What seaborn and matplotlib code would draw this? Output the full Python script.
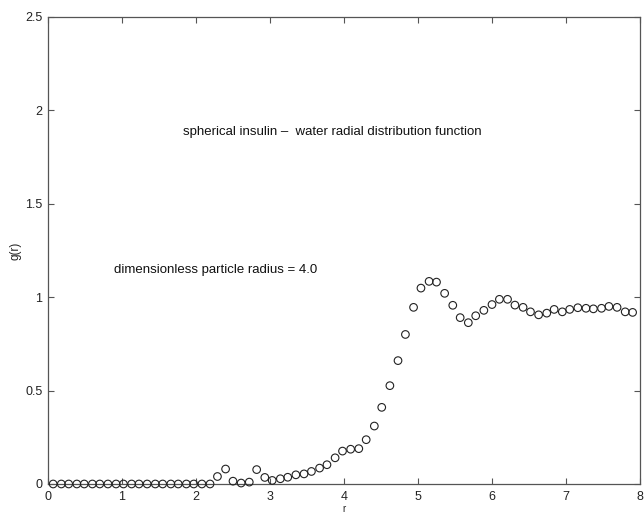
import matplotlib
matplotlib.use("Agg")
import matplotlib.pyplot as plt
import seaborn as sns
import pandas as pd

# radial distance (dimensionless) and radial distribution function values
r = [0.07, 0.18, 0.28, 0.39, 0.49, 0.60, 0.70, 0.81, 0.92, 1.02,
     1.13, 1.23, 1.34, 1.45, 1.55, 1.66, 1.76, 1.87, 1.97, 2.08,
     2.19, 2.29, 2.40, 2.50, 2.61, 2.72, 2.82, 2.93, 3.03, 3.14,
     3.24, 3.35, 3.46, 3.56, 3.67, 3.77, 3.88, 3.98, 4.09, 4.20,
     4.30, 4.41, 4.51, 4.62, 4.73, 4.83, 4.94, 5.04, 5.15, 5.25,
     5.36, 5.47, 5.57, 5.68, 5.78, 5.89, 6.00, 6.10, 6.21, 6.31,
     6.42, 6.52, 6.63, 6.74, 6.84, 6.95, 7.05, 7.16, 7.27, 7.37,
     7.48, 7.58, 7.69, 7.80, 7.90]
g = [0.0, 0.0, 0.0, 0.0, 0.0, 0.0, 0.0, 0.0, 0.0, 0.0,
     0.0, 0.0, 0.0, 0.0, 0.0, 0.0, 0.0, 0.0, 0.0, 0.0,
     0.0, 0.04, 0.08, 0.015, 0.005, 0.01, 0.077, 0.035, 0.019, 0.028,
     0.036, 0.049, 0.054, 0.067, 0.085, 0.103, 0.14, 0.176, 0.186, 0.189,
     0.237, 0.31, 0.41, 0.526, 0.66, 0.80, 0.945, 1.048, 1.084, 1.08,
     1.02, 0.956, 0.89, 0.863, 0.90, 0.929, 0.96, 0.988, 0.988, 0.957,
     0.945, 0.921, 0.905, 0.914, 0.934, 0.921, 0.934, 0.943, 0.94, 0.937,
     0.94, 0.95, 0.945, 0.921, 0.918]

x_ticks = [0, 1, 2, 3, 4, 5, 6, 7, 8]
x_tick_labels = ["0", "1", "2", "3", "4", "5", "6", "7", "8"]
y_ticks = [0, 0.5, 1, 1.5, 2, 2.5]
y_tick_labels = ["0", "0.5", "1", "1.5", "2", "2.5"]

title_text = "spherical insulin \u2013  water radial distribution function"
radius_text = "dimensionless particle radius = 4.0"

sns.set_style("ticks")
plt.rcParams["font.family"] = ["Liberation Sans", "DejaVu Sans"]

df = pd.DataFrame({"r": r, "g(r)": g})

fig = plt.figure(figsize=(6.44, 5.14), dpi=100)
ax = fig.add_axes([0.0745, 0.0584, 0.9193, 0.9091])

sns.scatterplot(data=df, x="r", y="g(r)", ax=ax, marker="o", s=30,
                facecolors="none", edgecolor="#222222", linewidth=0.8,
                clip_on=False, zorder=3)

ax.set_xlim(0, 8)
ax.set_ylim(0, 2.5)
ax.set_xticks(x_ticks)
ax.set_xticklabels(x_tick_labels)
ax.set_yticks(y_ticks)
ax.set_yticklabels(y_tick_labels)

for side in ["top", "right", "bottom", "left"]:
    ax.spines[side].set_visible(True)
    ax.spines[side].set_color("#555555")
    ax.spines[side].set_linewidth(0.9)

ax.tick_params(direction="in", length=4, width=0.8, color="#555555",
               top=True, right=True, labelsize=9, labelcolor="#222222")
ax.tick_params(axis="x", pad=5)
ax.tick_params(axis="y", pad=4)

ax.set_xlabel("r", fontsize=7, color="#222222", labelpad=1)
ax.set_ylabel("g(r)", fontsize=8.5, color="#222222", labelpad=3)

ax.text(1.82, 1.884, title_text, fontsize=9.5, color="#111111",
        ha="left", va="center")
ax.text(0.89, 1.143, radius_text, fontsize=9.5, color="#111111",
        ha="left", va="center")

fig.savefig("out.png", dpi=100)
